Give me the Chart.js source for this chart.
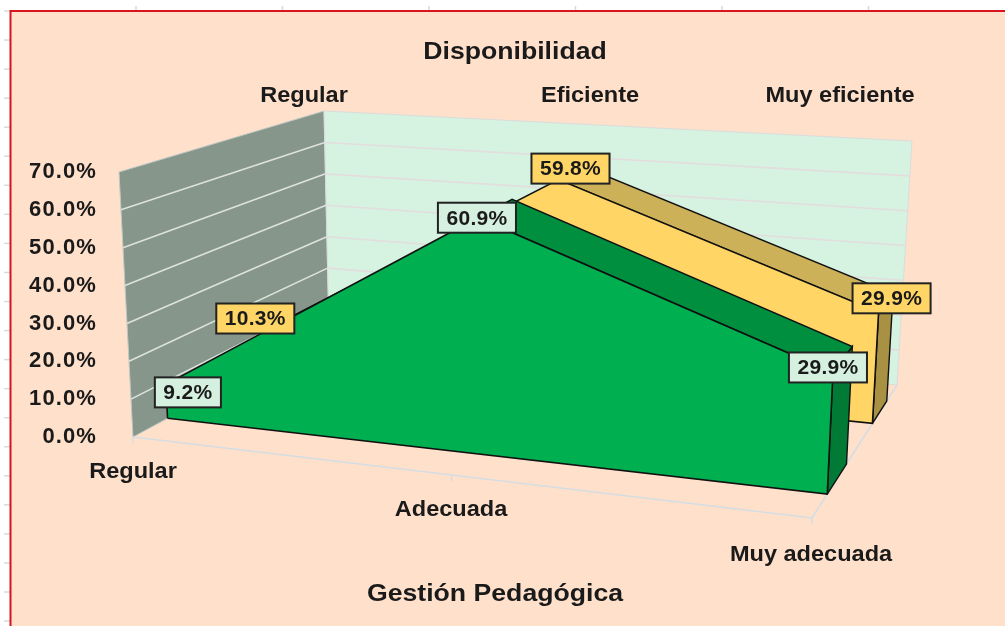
<!DOCTYPE html>
<html><head><meta charset="utf-8">
<style>html,body{margin:0;padding:0;background:#fff}#wrap{width:1005px;height:626px}canvas{display:block}</style>
<script src="https://cdn.jsdelivr.net/npm/chart.js@4"></script>
</head><body><div id="wrap"><canvas id="c" width="1005" height="626"></canvas></div>
<script>
// ---- chart values ----
const categories = ['Regular', 'Adecuada', 'Muy adecuada'];
const seriesNames = ['Regular', 'Eficiente', 'Muy eficiente'];
const eficiente = [10.3, 59.8, 29.9];
const muyEficiente = [9.2, 60.9, 29.9];
const valueTicks = [0, 10, 20, 30, 40, 50, 60, 70];
const chartTitle = 'Disponibilidad';
const xTitle = 'Gestión Pedagógica';

// ---- 3D box projection (floor and ceiling of the plot box) ----
const FLOOR = [[133,437],[812,518],[897,385],[329,331]];
const CEIL  = [[119,172],[825,226],[912,141],[324,111]];
const VALUE_MAX = 70;
const PX_PER_VALUE = 3.78, ZERO_PX = 437;
function quadMap(q){
  const [[x0,y0],[x1,y1],[x2,y2],[x3,y3]] = q;
  const dx1=x1-x2, dx2=x3-x2, dy1=y1-y2, dy2=y3-y2, sx=x0-x1+x2-x3, sy=y0-y1+y2-y3;
  const den=dx1*dy2-dx2*dy1;
  const g=(sx*dy2-dx2*sy)/den, h=(dx1*sy-sx*dy1)/den;
  const a=x1-x0+g*x1, b=x3-x0+h*x3, d=y1-y0+g*y1, e=y3-y0+h*y3;
  return (u,w)=>{const k=g*u+h*w+1;return [(a*u+b*w+x0)/k,(d*u+e*w+y0)/k];};
}
const floorMap = quadMap(FLOOR);
const rise = FLOOR.map((p,i)=>[CEIL[i][0]-p[0],CEIL[i][1]-p[1]]);
function project(u,w,v){
  const f=floorMap(u,w), t=v/VALUE_MAX;
  const r=k=>(1-w)*((1-u)*rise[0][k]+u*rise[1][k])+w*((1-u)*rise[3][k]+u*rise[2][k]);
  const px=f[0]+r(0)*t, py=f[1]+r(1)*t;
  return {x:px, y:(ZERO_PX-py)/PX_PER_VALUE};
}
const depth = {greenFront:.15, greenBack:.355, yellowFront:.665, yellowBack:.855};
const catU = i => i/(categories.length-1);

const datasets = [];
function poly(points, fill, stroke, width){
  datasets.push({data:points, fill: fill? 'shape':false, backgroundColor:fill||'transparent',
    borderColor:stroke||'transparent', borderWidth:width||0, pointRadius:0, tension:0, order:1000-datasets.length, clip:false});
}
const ringOf = (...p)=>[...p,p[0]];
// walls
poly(ringOf(project(0,0,0),project(0,1,0),project(0,1,70),project(0,0,70)),'#86968A','#BFC8C4',1);
poly(ringOf(project(0,1,0),project(1,1,0),project(1,1,70),project(0,1,70)),'#D6F2E0','#DADCDC',1);
// gridlines
valueTicks.slice(1,-1).forEach(v=>{
  poly([project(0,0,v),project(0,1,v)],null,'#DDE2DE',1.6);
  poly([project(0,1,v),project(1,1,v)],null,'#E3DDDD',1.6);
});
// floor edges with tick marks
const FL='#D4DDE3';
poly([project(0,0,0),project(1,0,0),project(1,1,0)],null,FL,1.6);
[0,.5,1].forEach(u=>{const p=project(u,0,0);poly([p,{x:p.x,y:p.y-1.6}],null,FL,1.4);});

function area(vals, wF, wB, cFront, cTop, cEnd){
  const n=vals.length;
  // top of the descending stretch
  for(let i=n-1;i>=1;i--){
    if(vals[i]<vals[i-1]) poly(ringOf(project(catU(i-1),wF,vals[i-1]),project(catU(i),wF,vals[i]),project(catU(i),wB,vals[i]),project(catU(i-1),wB,vals[i-1])),cTop,'#111',1.4);
  }
  // right end
  poly(ringOf(project(1,wF,0),project(1,wB,0),project(1,wB,vals[n-1]),project(1,wF,vals[n-1])),cEnd,'#111',1.4);
  // front
  const pts=[project(0,wF,0)];
  vals.forEach((v,i)=>pts.push(project(catU(i),wF,v)));
  pts.push(project(1,wF,0));
  poly(ringOf(...pts),cFront,'#111',1.6);
}
area(eficiente, depth.yellowFront, depth.yellowBack, '#FFD666','#CDB158','#A89143');
area(muyEficiente, depth.greenFront, depth.greenBack, '#00B050','#008F3E','#007A35');

// ---- decoration and text ----
const TEXT='#1a1a1a';
const labelShift = {
  y:[[-15,-9],[12,-11],[13,-14]],
  g:[[22,8],[-1,0],[-5,-5]]
};
function drawBox(ctx,chart,u,w,v,dx,dy,fill){
  const p=project(u,w,v);
  const cx=chart.scales.x.getPixelForValue(p.x)+dx, cy=chart.scales.y.getPixelForValue(p.y)+dy;
  const s=v.toFixed(1)+'%';
  ctx.font='bold 21px "Liberation Sans",Arial,sans-serif';
  ctx.letterSpacing='0.3px';
  const wd=ctx.measureText(s).width+17, h=30;
  ctx.fillStyle=fill;ctx.strokeStyle='#222';ctx.lineWidth=2;
  ctx.fillRect(cx-wd/2,cy-h/2,wd,h);ctx.strokeRect(cx-wd/2,cy-h/2,wd,h);
  ctx.fillStyle=TEXT;ctx.textAlign='center';ctx.textBaseline='middle';
  ctx.fillText(s,cx,cy+1);
}
const decor={
  id:'decor',
  beforeDraw(chart){
    const ctx=chart.ctx;
    ctx.save();
    ctx.fillStyle='#fff';ctx.fillRect(0,0,1005,626);
    ctx.strokeStyle='#D9D9D9';ctx.lineWidth=1.5;
    for(let x=136;x<1005;x+=146.5){ctx.beginPath();ctx.moveTo(x,6);ctx.lineTo(x,11);ctx.stroke();}
    for(let y=11;y<626;y+=29.05){ctx.beginPath();ctx.moveTo(4,y);ctx.lineTo(10,y);ctx.stroke();}
    ctx.fillStyle='#FFE0CB';ctx.fillRect(10,11,995,615);
    ctx.fillStyle='#D8141E';ctx.fillRect(10,10,995,2);ctx.fillRect(9.5,10,2,616);
    ctx.restore();
    ctx.letterSpacing='1.1px';
  },
  afterDatasetsDraw(chart){
    const ctx=chart.ctx;
    ctx.save();
    const t=(s,x,y,size,stretch)=>{
      ctx.save();ctx.font='bold '+size+'px "Liberation Sans",Arial,sans-serif';ctx.letterSpacing='0px';
      ctx.fillStyle=TEXT;ctx.textAlign='center';ctx.textBaseline='middle';
      ctx.translate(x,y+1);ctx.scale(stretch,1);ctx.fillText(s,0,0);ctx.restore();};
    t(chartTitle,515,51,24,1.11);
    t(xTitle,495,593,24,1.11);
    const sx=[304,590,840];
    seriesNames.forEach((s,i)=>t(s,sx[i],95,22,1.07));
    t(categories[0],133,471,22,1.07);
    t(categories[1],451,509,22,1.07);
    t(categories[2],811,554,22,1.07);
    eficiente.forEach((v,i)=>drawBox(ctx,chart,catU(i),depth.yellowFront,v,labelShift.y[i][0],labelShift.y[i][1],'#FFD666'));
    muyEficiente.forEach((v,i)=>drawBox(ctx,chart,catU(i),depth.greenFront,v,labelShift.g[i][0],labelShift.g[i][1],'#D5F0DF'));
    ctx.restore();
  }
};

new Chart(document.getElementById('c'),{
  type:'line',
  data:{datasets},
  plugins:[decor],
  options:{
    responsive:false,animation:false,
    layout:{padding:0},
    plugins:{legend:{display:false},tooltip:{enabled:false},title:{display:false}},
    scales:{
      x:{type:'linear',display:false,min:100,max:1005},
      y:{type:'linear',min:-(626-ZERO_PX)/PX_PER_VALUE,max:ZERO_PX/PX_PER_VALUE,
        afterBuildTicks(s){s.ticks=valueTicks.map(v=>({value:v}));},
        afterFit(s){s.width=100;s.paddingTop=0;s.paddingBottom=0;},
        grid:{display:false,drawTicks:false},border:{display:false},
        ticks:{padding:3,autoSkip:false,color:TEXT,font:{family:'"Liberation Sans",Arial,sans-serif',weight:'bold',size:22},
          callback:v=>Number(v).toFixed(1)+'%'}}
    }
  }
});
</script></body></html>
